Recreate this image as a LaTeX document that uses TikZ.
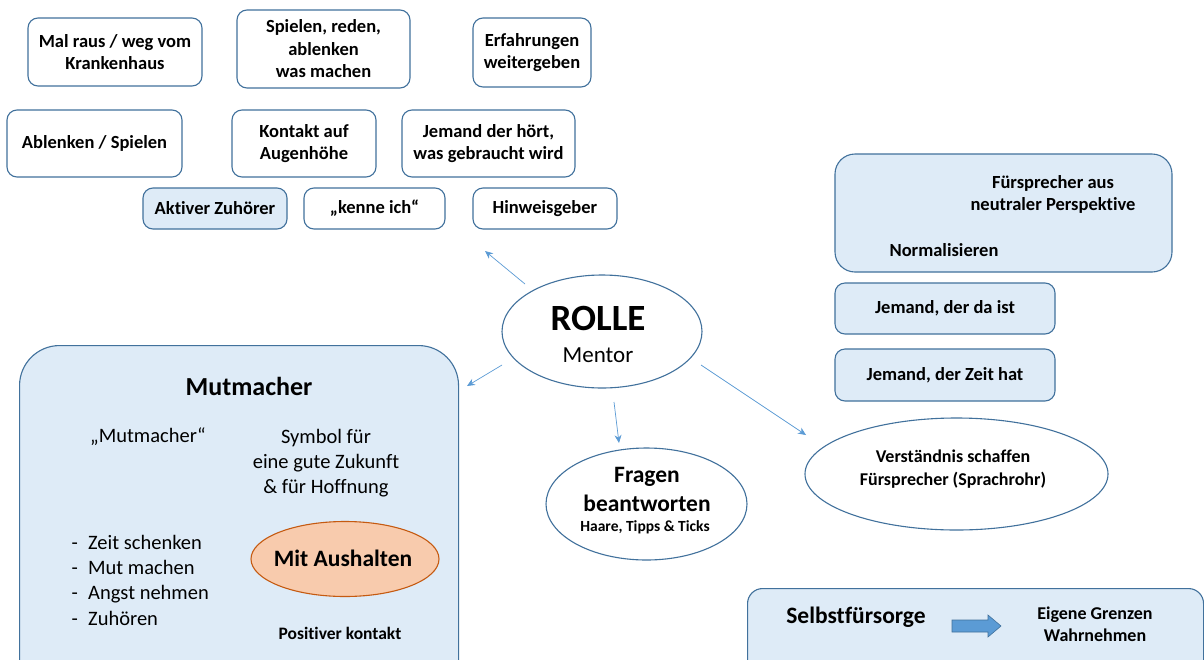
\documentclass[tikz,border=0pt]{standalone}
\usepackage{fontspec}
\setmainfont{Carlito}[Ligatures=NoCommon]
\usetikzlibrary{arrows.meta,shapes.geometric}
\definecolor{bord}{HTML}{41719C}
\definecolor{lfill}{HTML}{DEEBF7}
\definecolor{arrc}{HTML}{5B9BD5}
\definecolor{ofill}{HTML}{F8CBAD}
\definecolor{obord}{HTML}{C55A11}
\begin{document}
\begin{tikzpicture}[x=1pt,y=-1pt,
  sbox/.style={draw=bord, line width=1.1pt, rounded corners=10pt, fill=white, align=center, inner sep=0pt,
    font=\bfseries\fontsize{18.5}{22.5}\selectfont},
  bbox/.style={draw=bord, line width=1.1pt, fill=lfill, inner sep=0pt},
  ell/.style={ellipse, draw=bord, line width=1.1pt, fill=white, inner sep=0pt},
  txt/.style={inner sep=0pt, align=center},
  arr/.style={draw=arrc, line width=0.7pt, -{Stealth[length=8pt,width=7pt]}},
  fb/.style 2 args={font=\bfseries\fontsize{#1}{#2}\selectfont},
  fr/.style 2 args={font=\fontsize{#1}{#2}\selectfont}
]
\useasboundingbox (0,0) rectangle (1204,659);
\clip (0,0) rectangle (1204,659);
\fill[white] (0,0) rectangle (1204,659);

% top boxes
\node[sbox, minimum width=174pt, minimum height=68pt] (b1) at (115,52) {Mal raus / weg vom\\Krankenhaus};
\node[sbox, minimum width=173pt, minimum height=78pt] (b2) at (323.5,49) {Spielen, reden,\\ablenken\\was machen};
\node[sbox, minimum width=118pt, minimum height=69pt] (b3) at (532,52.5) {Erfahrungen\\weitergeben};
\node[sbox, minimum width=175pt, minimum height=67pt] (b4) at (94.5,143.5) {Ablenken / Spielen};
\node[sbox, minimum width=144pt, minimum height=67pt] (b5) at (304,143.5) {Kontakt auf\\Augenhöhe};
\node[sbox, minimum width=173pt, minimum height=67pt] (b6) at (488.5,143.5) {Jemand der hört,\\was gebraucht wird};
\node[sbox, fill=lfill, minimum width=144pt, minimum height=41pt] (b7) at (215,208.5) {Aktiver Zuhörer};
\node[sbox, minimum width=141pt, minimum height=41pt] (b8) at (374.5,208.5) {„kenne ich“};
\node[sbox, minimum width=144pt, minimum height=41pt] (b9) at (545,208.5) {Hinweisgeber};

% right boxes
\node[bbox, rounded corners=20pt, minimum width=337pt, minimum height=118pt] (rbig) at (1003.5,213) {};
\node[txt, fb={18.5}{22}] (fsp) at (1053,194) {Fürsprecher aus\\neutraler Perspektive};
\node[txt, fb={18.5}{22}] (norm) at (944,250) {Normalisieren};
\node[sbox, fill=lfill, minimum width=220pt, minimum height=51pt] (r1) at (945,308.5) {Jemand, der da ist};
\node[sbox, fill=lfill, minimum width=220pt, minimum height=52pt] (r2) at (945,375) {Jemand, der Zeit hat};

% central ellipse
\node[ell, minimum width=200pt, minimum height=113pt] (rolle) at (602,331.5) {};
\node[txt, fb={37}{40}] (rt) at (598,318) {ROLLE};
\node[txt, fr={23}{28}] (mt) at (598,355) {Mentor};

% Fragen
\node[ell, minimum width=201pt, minimum height=112pt] (frag) at (646.5,504) {};
\node[txt, fb={23.5}{28}] (fr1) at (647,477) {Fragen};
\node[txt, fb={23.5}{28}] (fr2) at (647,503) {beantworten};
\node[txt, fb={15.5}{18}] (fr3) at (645,527) {Haare, Tipps \& Ticks};

% Verstaendnis
\node[ell, minimum width=303pt, minimum height=112pt] (vers) at (956.5,474) {};
\node[txt, fb={18}{23}] (vt) at (953,469) {Verständnis schaffen\\Fürsprecher (Sprachrohr)};

% Mutmacher box
\node[bbox, rounded corners=40pt, minimum width=439pt, minimum height=355pt, anchor=north west] (mut) at (19,345) {};
\node[txt, fb={26}{30}] (mtit) at (249,386) {Mutmacher};
\node[txt, fr={20.5}{25}] (mq) at (148,437) {„Mutmacher“};
\node[txt, fr={20.5}{25.3}] (sym) at (326,463) {Symbol für\\eine gute Zukunft\\\& für Hoffnung};
\foreach \t/\yy [count=\i] in {Zeit schenken/549, Mut machen/574, Angst nehmen/599, Zuhören/625}{
  \node[txt, fr={20.5}{25}, anchor=base east] (d\i) at (78,\yy) {-};
  \node[txt, fr={20.5}{25}, anchor=base west] (l\i) at (88,\yy) {\t};
}
\node[ellipse, draw=obord, line width=1.1pt, fill=ofill, inner sep=0pt, minimum width=188pt, minimum height=75pt] (aus) at (345,559) {};
\node[txt, fb={23.5}{28}] (aust) at (343,558) {Mit Aushalten};
\node[txt, fb={17.5}{20}] (pos) at (340,633) {Positiver kontakt};

% Selbstfuersorge box
\node[bbox, rounded corners=15pt, minimum width=456pt, minimum height=102pt, anchor=north west] (selb) at (747,588) {};
\node[txt, fb={23.5}{28}] (st) at (856,617) {Selbstfürsorge};
\node[txt, fb={18}{22}] (eg) at (1095,624) {Eigene Grenzen\\Wahrnehmen};
\draw[fill=arrc, draw=bord, line width=0.6pt] (952,620) -- (988,620) -- (988,615) -- (1001,626) -- (988,637) -- (988,632) -- (952,632) -- cycle;

% arrows
\coordinate (a1s) at (525,284); \coordinate (a1e) at (485,251);
\coordinate (a2s) at (502,365); \coordinate (a2e) at (467,386);
\coordinate (a3s) at (614,402); \coordinate (a3e) at (619,443);
\coordinate (a4s) at (701,365); \coordinate (a4e) at (806,435);
\draw[arr] (a1s) -- (a1e);
\draw[arr] (a2s) -- (a2e);
\draw[arr] (a3s) -- (a3e);
\draw[arr] (a4s) -- (a4e);
\end{tikzpicture}
\end{document}
